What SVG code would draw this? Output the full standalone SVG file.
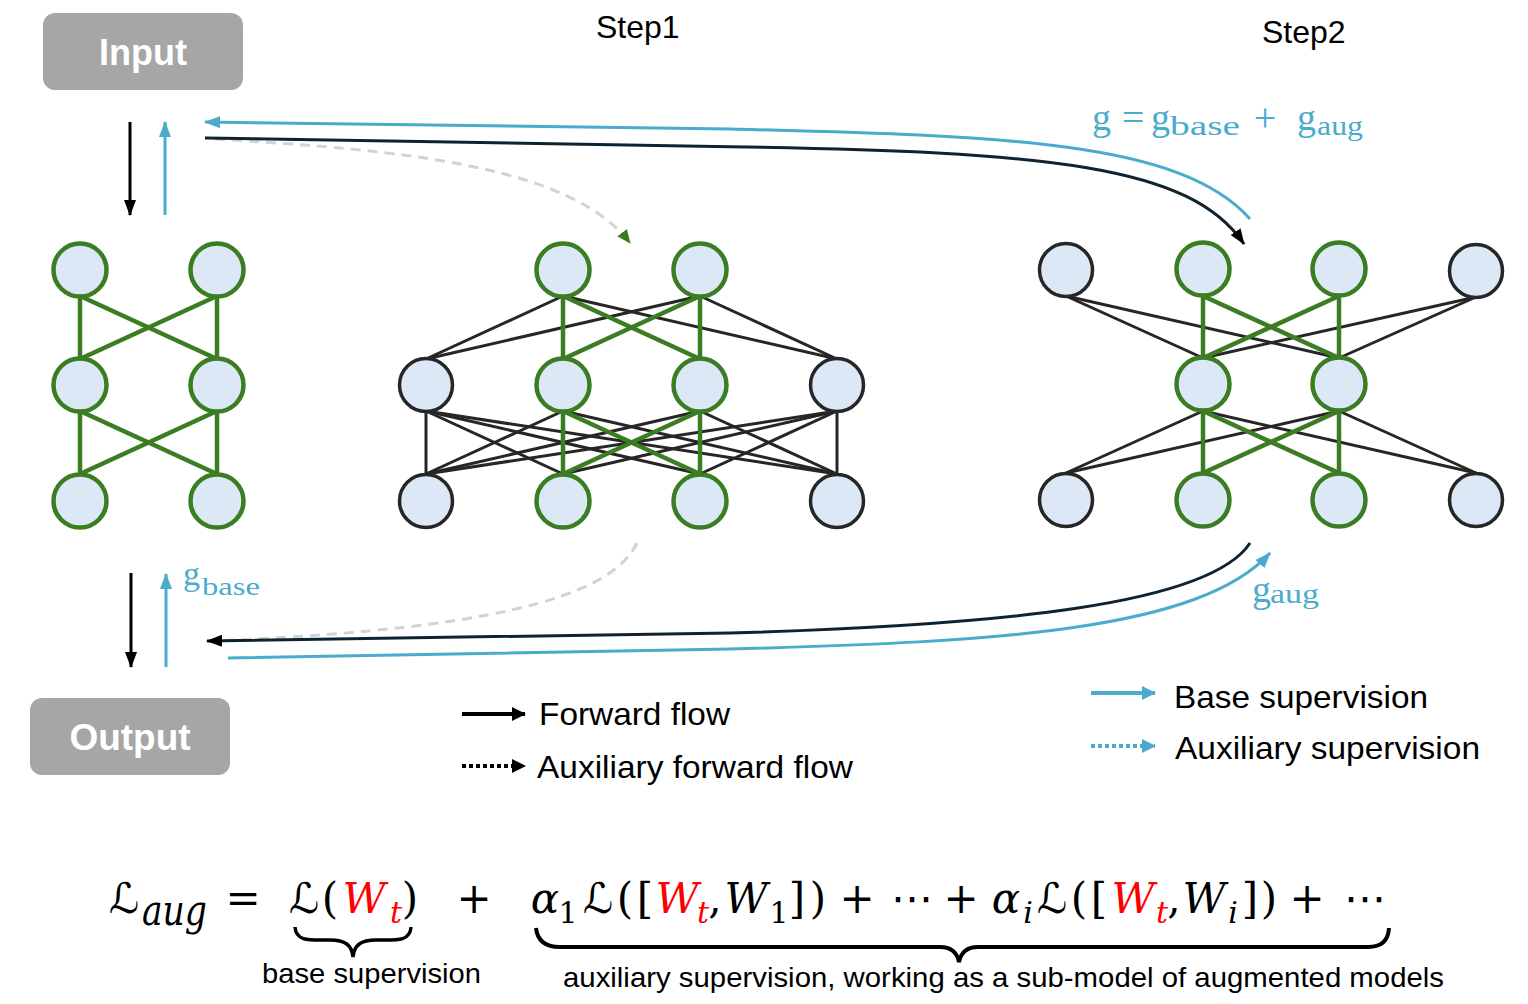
<svg xmlns="http://www.w3.org/2000/svg" width="1528" height="1004" viewBox="0 0 1528 1004">
<style>
.nodeG{fill:#dce8f5;stroke:#3b7d23;stroke-width:4.5}
.nodeK{fill:#dce8f5;stroke:#262626;stroke-width:3.5}
.eg{stroke:#3b7d23;stroke-width:4.5;fill:none}
.ek{stroke:#262626;stroke-width:3;fill:none}
.lbl{font-family:"Liberation Sans",Arial,sans-serif;fill:#000}
.box{fill:#a6a6a6}
.boxt{font-family:"Liberation Sans",Arial,sans-serif;font-weight:bold;fill:#fff;text-anchor:middle}
.blue{fill:#4aabcc;font-family:"Liberation Serif","DejaVu Serif",serif}
.eq{font-family:"DejaVu Serif","DejaVu Sans",serif;font-size:42px;fill:#000;text-anchor:middle}
.st{text-anchor:start}
.it{font-style:italic}
.sub{font-size:30px}
.red{fill:#ff0000}
</style>
<defs>
<marker id="aK" viewBox="0 0 16 12" refX="15" refY="6" markerWidth="16" markerHeight="12" markerUnits="userSpaceOnUse" orient="auto"><path d="M0,0 L16,6 L0,12 z" fill="#000"/></marker>
<marker id="aB" viewBox="0 0 16 12" refX="15" refY="6" markerWidth="16" markerHeight="12" markerUnits="userSpaceOnUse" orient="auto"><path d="M0,0 L16,6 L0,12 z" fill="#4aabcc"/></marker>
<marker id="aG" viewBox="0 0 14 12" refX="13" refY="6" markerWidth="14" markerHeight="12" markerUnits="userSpaceOnUse" orient="auto"><path d="M0,0 L14,6 L0,12 z" fill="#3b7d23"/></marker>
<marker id="aKL" viewBox="0 0 14 14" refX="13" refY="7" markerWidth="14" markerHeight="14" markerUnits="userSpaceOnUse" orient="auto"><path d="M0,0 L14,7 L0,14 z" fill="#000"/></marker>
<marker id="aBL" viewBox="0 0 14 14" refX="13" refY="7" markerWidth="14" markerHeight="14" markerUnits="userSpaceOnUse" orient="auto"><path d="M0,0 L14,7 L0,14 z" fill="#4aabcc"/></marker>
</defs>
<rect width="1528" height="1004" fill="#fff"/>

<!-- network edges -->
<g id="edges-nets">
 <g class="eg">
  <line x1="80" y1="296" x2="80" y2="359"/><line x1="80" y1="296" x2="217" y2="359"/>
  <line x1="217" y1="296" x2="80" y2="359"/><line x1="217" y1="296" x2="217" y2="359"/>
  <line x1="80" y1="411" x2="80" y2="474"/><line x1="80" y1="411" x2="217" y2="474"/>
  <line x1="217" y1="411" x2="80" y2="474"/><line x1="217" y1="411" x2="217" y2="474"/>
 </g>
 <g class="ek">
  <line x1="563" y1="296" x2="426" y2="359"/><line x1="563" y1="296" x2="837" y2="359"/>
  <line x1="700" y1="296" x2="426" y2="359"/><line x1="700" y1="296" x2="837" y2="359"/>
  <line x1="426" y1="411" x2="426" y2="474"/><line x1="426" y1="411" x2="563" y2="474"/>
  <line x1="426" y1="411" x2="700" y2="474"/><line x1="426" y1="411" x2="837" y2="474"/>
  <line x1="563" y1="411" x2="426" y2="474"/><line x1="563" y1="411" x2="837" y2="474"/>
  <line x1="700" y1="411" x2="426" y2="474"/><line x1="700" y1="411" x2="837" y2="474"/>
  <line x1="837" y1="411" x2="426" y2="474"/><line x1="837" y1="411" x2="563" y2="474"/>
  <line x1="837" y1="411" x2="700" y2="474"/><line x1="837" y1="411" x2="837" y2="474"/>
 </g>
 <g class="eg">
  <line x1="563" y1="296" x2="563" y2="359"/><line x1="563" y1="296" x2="700" y2="359"/>
  <line x1="700" y1="296" x2="563" y2="359"/><line x1="700" y1="296" x2="700" y2="359"/>
  <line x1="563" y1="411" x2="563" y2="474"/><line x1="563" y1="411" x2="700" y2="474"/>
  <line x1="700" y1="411" x2="563" y2="474"/><line x1="700" y1="411" x2="700" y2="474"/>
 </g>
 <g class="ek">
  <line x1="1066" y1="296" x2="1203" y2="358"/><line x1="1066" y1="296" x2="1339" y2="358"/>
  <line x1="1476" y1="297" x2="1203" y2="358"/><line x1="1476" y1="297" x2="1339" y2="358"/>
  <line x1="1203" y1="411" x2="1066" y2="473"/><line x1="1203" y1="411" x2="1476" y2="473"/>
  <line x1="1339" y1="411" x2="1066" y2="473"/><line x1="1339" y1="411" x2="1476" y2="473"/>
 </g>
 <g class="eg">
  <line x1="1203" y1="296" x2="1203" y2="358"/><line x1="1203" y1="296" x2="1339" y2="358"/>
  <line x1="1339" y1="296" x2="1203" y2="358"/><line x1="1339" y1="296" x2="1339" y2="358"/>
  <line x1="1203" y1="411" x2="1203" y2="473"/><line x1="1203" y1="411" x2="1339" y2="473"/>
  <line x1="1339" y1="411" x2="1203" y2="473"/><line x1="1339" y1="411" x2="1339" y2="473"/>
 </g>
</g>

<!-- nodes: left network -->
<g id="L-t1"><circle class="nodeG" cx="80" cy="270" r="26.5"/></g>
<g id="L-t2"><circle class="nodeG" cx="217" cy="270" r="26.5"/></g>
<g id="L-m1"><circle class="nodeG" cx="80" cy="385" r="26.5"/></g>
<g id="L-m2"><circle class="nodeG" cx="217" cy="385" r="26.5"/></g>
<g id="L-b1"><circle class="nodeG" cx="80" cy="501" r="26.5"/></g>
<g id="L-b2"><circle class="nodeG" cx="217" cy="501" r="26.5"/></g>
<!-- nodes: step1 -->
<g id="S1-t1"><circle class="nodeG" cx="563" cy="270" r="26.5"/></g>
<g id="S1-t2"><circle class="nodeG" cx="700" cy="270" r="26.5"/></g>
<g id="S1-m1"><circle class="nodeK" cx="426" cy="385" r="26.5"/></g>
<g id="S1-m2"><circle class="nodeG" cx="563" cy="385" r="26.5"/></g>
<g id="S1-m3"><circle class="nodeG" cx="700" cy="385" r="26.5"/></g>
<g id="S1-m4"><circle class="nodeK" cx="837" cy="385" r="26.5"/></g>
<g id="S1-b1"><circle class="nodeK" cx="426" cy="501" r="26.5"/></g>
<g id="S1-b2"><circle class="nodeG" cx="563" cy="501" r="26.5"/></g>
<g id="S1-b3"><circle class="nodeG" cx="700" cy="501" r="26.5"/></g>
<g id="S1-b4"><circle class="nodeK" cx="837" cy="501" r="26.5"/></g>
<!-- nodes: step2 -->
<g id="S2-t1"><circle class="nodeK" cx="1066" cy="270" r="26.5"/></g>
<g id="S2-t2"><circle class="nodeG" cx="1203" cy="269" r="26.5"/></g>
<g id="S2-t3"><circle class="nodeG" cx="1339" cy="269" r="26.5"/></g>
<g id="S2-t4"><circle class="nodeK" cx="1476" cy="271" r="26.5"/></g>
<g id="S2-m1"><circle class="nodeG" cx="1203" cy="384" r="26.5"/></g>
<g id="S2-m2"><circle class="nodeG" cx="1339" cy="384" r="26.5"/></g>
<g id="S2-b1"><circle class="nodeK" cx="1066" cy="500" r="26.5"/></g>
<g id="S2-b2"><circle class="nodeG" cx="1203" cy="500" r="26.5"/></g>
<g id="S2-b3"><circle class="nodeG" cx="1339" cy="500" r="26.5"/></g>
<g id="S2-b4"><circle class="nodeK" cx="1476" cy="500" r="26.5"/></g>

<!-- Input / Output -->
<g id="input"><rect class="box" x="43" y="13" width="200" height="77" rx="12"/><text class="boxt" x="143" y="65" font-size="36">Input</text></g>
<g id="output"><rect class="box" x="30" y="698" width="200" height="77" rx="12"/><text class="boxt" x="130" y="750" font-size="37">Output</text></g>

<!-- connectors -->
<g id="connectors" fill="none">
 <line x1="130" y1="122" x2="130" y2="215" stroke="#000" stroke-width="3" marker-end="url(#aK)"/>
 <line x1="165" y1="215" x2="165" y2="122" stroke="#4aabcc" stroke-width="3" marker-end="url(#aB)"/>
 <line x1="131" y1="573" x2="131" y2="667" stroke="#000" stroke-width="3" marker-end="url(#aK)"/>
 <line x1="166" y1="667" x2="166" y2="574" stroke="#4aabcc" stroke-width="3" marker-end="url(#aB)"/>
 <path d="M215,139 C400,150 570,165 630,243" stroke="#d3d3d3" stroke-width="3" stroke-dasharray="10 7" marker-end="url(#aG)"/>
 <path d="M637,543 C610,600 480,630 212,641" stroke="#d3d3d3" stroke-width="3" stroke-dasharray="10 7"/>
 <path d="M1250,219 C1180,140 1000,136 730,129 L205,122" stroke="#4aabcc" stroke-width="3" marker-end="url(#aB)"/>
 <path d="M205,138 L730,146.7 C1050,152 1190,165 1244,244" stroke="#0f2230" stroke-width="3" marker-end="url(#aK)"/>
 <path d="M1250,543 C1210,605 1000,625 730,633 L207,641" stroke="#0f2230" stroke-width="3" marker-end="url(#aK)"/>
 <path d="M228,658 L730,649 C1000,642 1200,630 1270,553" stroke="#4aabcc" stroke-width="3" marker-end="url(#aB)"/>
 <line x1="462" y1="714" x2="525" y2="714" stroke="#000" stroke-width="4" marker-end="url(#aKL)"/>
 <line x1="462" y1="766" x2="525" y2="766" stroke="#000" stroke-width="4" stroke-dasharray="4 3" marker-end="url(#aKL)"/>
 <line x1="1091" y1="693" x2="1155" y2="693" stroke="#4aabcc" stroke-width="4" marker-end="url(#aBL)"/>
 <line x1="1091" y1="746" x2="1155" y2="746" stroke="#4aabcc" stroke-width="4" stroke-dasharray="4 3" marker-end="url(#aBL)"/>
</g>

<!-- labels -->
<text class="lbl" x="596" y="38" font-size="32">Step1</text>
<text class="lbl" x="1262" y="43" font-size="32">Step2</text>
<text class="lbl" x="539" y="725" font-size="32" textLength="191" lengthAdjust="spacingAndGlyphs">Forward flow</text>
<text class="lbl" x="537" y="778" font-size="32" textLength="316" lengthAdjust="spacingAndGlyphs">Auxiliary forward flow</text>
<text class="lbl" x="1174" y="708" font-size="32" textLength="254" lengthAdjust="spacingAndGlyphs">Base supervision</text>
<text class="lbl" x="1175" y="759" font-size="32" textLength="305" lengthAdjust="spacingAndGlyphs">Auxiliary supervision</text>

<!-- gradient formulas -->
<g class="blue">
 <text x="1092" y="130" font-size="38">g</text>
 <text x="1133" y="131" font-size="40" text-anchor="middle">=</text>
 <text x="1151" y="130" font-size="38">g</text>
 <text x="1170" y="135" font-size="27" textLength="70" lengthAdjust="spacingAndGlyphs">base</text>
 <text x="1265" y="131" font-size="40" text-anchor="middle">+</text>
 <text x="1297" y="130" font-size="38">g</text>
 <text x="1317" y="135" font-size="27" textLength="46" lengthAdjust="spacingAndGlyphs">aug</text>
 <text x="183" y="585" font-size="34">g</text>
 <text x="202" y="595" font-size="26" textLength="58" lengthAdjust="spacingAndGlyphs">base</text>
 <text x="1252" y="602" font-size="38">g</text>
 <text x="1270" y="603" font-size="28" textLength="49" lengthAdjust="spacingAndGlyphs">aug</text>
</g>

<!-- loss equation -->
<g id="equation">
 <text class="eq" x="124" y="913">ℒ</text>
 <text class="eq it st" x="142" y="925" font-size="32" textLength="65" lengthAdjust="spacingAndGlyphs">aug</text>
 <text class="eq" x="243" y="913">=</text>
 <text class="eq" x="304" y="913">ℒ</text>
 <text class="eq" x="330" y="913">(</text>
 <text class="eq it red" x="364" y="913">W</text>
 <text class="eq it red sub" x="396" y="923">t</text>
 <text class="eq" x="410" y="913">)</text>
 <text class="eq" x="474" y="913">+</text>
 <text class="eq it" x="545" y="913">α</text>
 <text class="eq sub" x="568" y="923">1</text>
 <text class="eq" x="598" y="913">ℒ</text>
 <text class="eq" x="625" y="913">(</text>
 <text class="eq" x="645" y="913">[</text>
 <text class="eq it red" x="677" y="913">W</text>
 <text class="eq it red sub" x="703" y="923">t</text>
 <text class="eq" x="715" y="913">,</text>
 <text class="eq it" x="746" y="913">W</text>
 <text class="eq sub" x="779" y="923">1</text>
 <text class="eq" x="797" y="913">]</text>
 <text class="eq" x="818" y="913">)</text>
 <text class="eq" x="857" y="913">+</text>
 <text class="eq" x="912" y="913">⋯</text>
 <text class="eq" x="961" y="913">+</text>
 <text class="eq it" x="1006" y="913">α</text>
 <text class="eq it sub" x="1028" y="923">i</text>
 <text class="eq" x="1052" y="913">ℒ</text>
 <text class="eq" x="1079" y="913">(</text>
 <text class="eq" x="1099" y="913">[</text>
 <text class="eq it red" x="1133" y="913">W</text>
 <text class="eq it red sub" x="1162" y="923">t</text>
 <text class="eq" x="1174" y="913">,</text>
 <text class="eq it" x="1204" y="913">W</text>
 <text class="eq it sub" x="1233" y="923">i</text>
 <text class="eq" x="1250" y="913">]</text>
 <text class="eq" x="1269" y="913">)</text>
 <text class="eq" x="1307" y="913">+</text>
 <text class="eq" x="1365" y="913">⋯</text>
 <path d="M295,927 C296,942 310,940 330,940 C345,940 352,945 353,957 C354,945 361,940 376,940 C396,940 410,942 411,927" fill="none" stroke="#000" stroke-width="3.5"/>
 <path d="M536,928 Q538,947 560,947 L940,947 Q956,947 959,962 Q962,947 978,947 L1368,947 Q1388,947 1389,928" fill="none" stroke="#000" stroke-width="4"/>
 <text class="lbl" x="262" y="983" font-size="28" textLength="219" lengthAdjust="spacingAndGlyphs">base supervision</text>
 <text class="lbl" x="563" y="987" font-size="28" textLength="881" lengthAdjust="spacingAndGlyphs">auxiliary supervision, working as a sub-model of augmented models</text>
</g>
</svg>
